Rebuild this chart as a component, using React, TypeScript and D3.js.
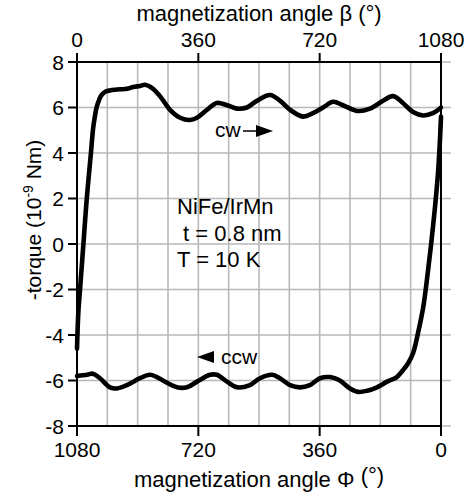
import React from "react";
import * as d3 from "d3";

// cw branch: [beta (deg), -torque (1e-9 Nm)]
const cwBeta = [0, 4, 9, 14, 19, 29, 41, 48, 53, 58, 66, 73, 85, 98, 113, 128, 148, 167, 187, 202, 223, 246, 276, 306, 335, 356, 386, 415, 445, 475, 504, 534, 573, 602, 632, 671, 700, 730, 760, 789, 831, 869, 908, 938, 967, 997, 1027, 1056, 1080];
const cwTorque = [-4.6, -3.0, -2.0, -1.0, 0.0, 2.0, 3.95, 5.1, 5.6, 6.0, 6.35, 6.55, 6.7, 6.75, 6.78, 6.8, 6.82, 6.9, 6.95, 7.0, 6.85, 6.5, 5.9, 5.55, 5.45, 5.55, 5.9, 6.2, 6.1, 5.95, 6.0, 6.3, 6.55, 6.3, 5.9, 5.6, 5.75, 6.0, 6.25, 6.1, 5.85, 5.95, 6.3, 6.5, 6.2, 5.8, 5.65, 5.75, 6.0];

// ccw branch: [Phi (deg), -torque (1e-9 Nm)]
const ccwPhi = [0, 3, 9, 18, 30, 42, 53, 68, 83, 98, 113, 131, 160, 190, 219, 246, 270, 300, 329, 359, 389, 418, 448, 478, 501, 537, 567, 605, 635, 665, 685, 724, 754, 783, 813, 843, 864, 893, 932, 961, 982, 1012, 1033, 1050, 1080];
const ccwTorque = [5.6, 4.6, 3.1, 1.6, -0.1, -1.6, -2.8, -3.9, -4.8, -5.25, -5.55, -5.85, -6.05, -6.3, -6.45, -6.5, -6.35, -6.0, -5.85, -5.9, -6.2, -6.3, -6.2, -5.9, -5.75, -5.9, -6.2, -6.3, -6.05, -5.75, -5.75, -6.05, -6.3, -6.3, -6.1, -5.85, -5.75, -5.9, -6.2, -6.35, -6.3, -5.9, -5.7, -5.75, -5.8];

const betaTicks = [0, 360, 720, 1080];
const phiTicks = [1080, 720, 360, 0];
const yTicks = [-8, -6, -4, -2, 0, 2, 4, 6, 8];
const gridAngles = d3.range(0, 1081, 90);
const annotation = ["NiFe/IrMn", " t = 0.8 nm", "T = 10 K"];

const W = 472, H = 495;
const L = 77, R = 441, T = 62, B = 426;
const FONT = "'Liberation Sans', Arial, Helvetica, sans-serif";

export default function App() {
  const xBeta = d3.scaleLinear().domain([0, 1080]).range([L, R]);
  const xPhi = d3.scaleLinear().domain([1080, 0]).range([L, R]);
  const y = d3.scaleLinear().domain([-8, 8]).range([B, T]);

  const cwLine = d3
    .line<number>()
    .x((_, i) => xBeta(cwBeta[i]))
    .y((d) => y(d))
    .curve(d3.curveCatmullRom.alpha(0.5));
  const ccwLine = d3
    .line<number>()
    .x((_, i) => xPhi(ccwPhi[i]))
    .y((d) => y(d))
    .curve(d3.curveCatmullRom.alpha(0.5));

  const grid = "#b8b8b8";

  return (
    <svg
      width={W}
      height={H}
      style={{ position: "absolute", left: 0, top: 0, background: "#fff" }}
      fontFamily={FONT}
    >
      {/* grid */}
      {gridAngles.map((a) => (
        <line key={"gv" + a} x1={xBeta(a)} x2={xBeta(a)} y1={T} y2={B} stroke={grid} strokeWidth={1.6} />
      ))}
      {yTicks.map((v) => (
        <line key={"gh" + v} x1={L} x2={R + 10} y1={y(v)} y2={y(v)} stroke={grid} strokeWidth={1.6} />
      ))}

      {/* frame */}
      <line x1={L} x2={R} y1={T} y2={T} stroke="#000" strokeWidth={2} />
      <line x1={L} x2={R} y1={B} y2={B} stroke="#000" strokeWidth={2} />
      <line x1={L} x2={L} y1={T} y2={B} stroke="#000" strokeWidth={2} />
      <line x1={R} x2={R} y1={T} y2={B} stroke="#000" strokeWidth={2} />

      {/* ticks */}
      {betaTicks.map((t) => (
        <g key={"bt" + t}>
          <line x1={xBeta(t)} x2={xBeta(t)} y1={T - 9} y2={T} stroke="#000" strokeWidth={2} />
          <text x={xBeta(t)} y={T - 15} textAnchor="middle" fontSize={21}>{t}</text>
        </g>
      ))}
      {phiTicks.map((t) => (
        <g key={"pt" + t}>
          <line x1={xPhi(t)} x2={xPhi(t)} y1={B} y2={B + 10} stroke="#000" strokeWidth={2} />
          <text x={xPhi(t)} y={B + 31} textAnchor="middle" fontSize={21}>{t}</text>
        </g>
      ))}
      {yTicks.map((v) => (
        <g key={"yt" + v}>
          <line x1={L - 9} x2={L} y1={y(v)} y2={y(v)} stroke="#000" strokeWidth={2} />
          <text x={L - 13} y={y(v) + 7.5} textAnchor="end" fontSize={21}>{v}</text>
        </g>
      ))}

      {/* axis titles */}
      <text x={(L + R) / 2} y={21} textAnchor="middle" fontSize={22}>
        magnetization angle β (°)
      </text>
      <text x={(L + R) / 2} y={487} textAnchor="middle" fontSize={22}>
        magnetization angle Φ <tspan dy={-4}>(°)</tspan>
      </text>
      <text transform={`translate(41,${(T + B) / 2 - 24}) rotate(-90)`} textAnchor="middle" fontSize={21}>
        -torque (10<tspan dy={-8} fontSize={14}>-9</tspan><tspan dy={8}> Nm)</tspan>
      </text>

      {/* data */}
      <path d={ccwLine(ccwTorque) ?? ""} fill="none" stroke="#000" strokeWidth={4.6} strokeLinejoin="round" strokeLinecap="round" />
      <path d={cwLine(cwTorque) ?? ""} fill="none" stroke="#000" strokeWidth={4.6} strokeLinejoin="round" strokeLinecap="round" />

      {/* annotations */}
      <text x={215} y={137} fontSize={21}>cw</text>
      <line x1={243} x2={258} y1={131} y2={131} stroke="#000" strokeWidth={1.5} />
      <path d="M256,125 L273,131 L256,137 Z" fill="#000" />

      <path d="M197,357 L214,351 L214,363 Z" fill="#000" />
      <text x={221} y={364} fontSize={21}>ccw</text>

      {annotation.map((s, i) => (
        <text key={s} x={177} y={214 + i * 26.5} fontSize={22} xmlSpace="preserve" style={{ whiteSpace: "pre" }}>
          {s}
        </text>
      ))}
    </svg>
  );
}
